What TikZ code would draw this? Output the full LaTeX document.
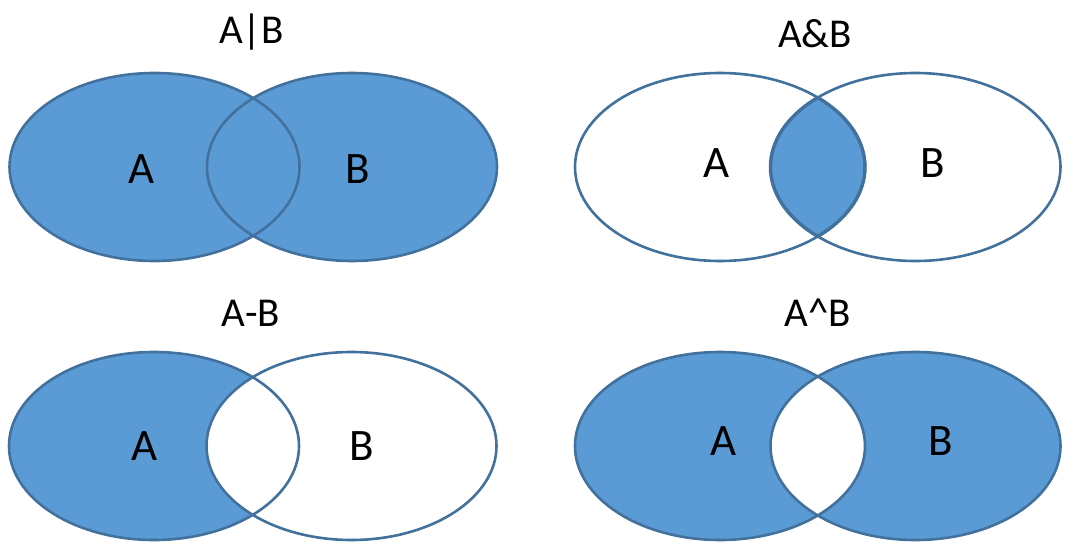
\documentclass[tikz,border=0pt]{standalone}
\usepackage{fontspec}
\setmainfont{Carlito}
\usepackage{tikz}
\definecolor{vennblue}{RGB}{91,155,213}
\definecolor{vennedge}{RGB}{65,113,156}

\begin{document}
\begin{tikzpicture}[
  x=1pt, y=-1pt,
  setedge/.style={draw=vennedge, line width=2.6pt},
  setfill/.style={fill=#1},
  setlabel/.style={anchor=base, inner sep=0pt, font=\fontsize{45}{45}\selectfont},
  optitle/.style={anchor=base, inner sep=0pt, font=\fontsize{41}{41}\selectfont},
  oval/.style={x radius=145pt, y radius=94pt}
]
\useasboundingbox (0,0) rectangle (1077,546);

% set centres
\coordinate (orA)  at (154.5,167);
\coordinate (orB)  at (352,167);
\coordinate (andA) at (720,167);
\coordinate (andB) at (915.5,167);
\coordinate (difA) at (154,446);
\coordinate (difB) at (351.5,446);
\coordinate (xorA) at (720,446);
\coordinate (xorB) at (915.5,446);

% A|B
\fill[setfill=vennblue] (orA) ellipse [oval] (orB) ellipse [oval];

% A&B
\begin{scope}
  \clip (andA) ellipse [oval];
  \fill[setfill=vennblue] (andB) ellipse [oval];
  \draw[setedge, line width=3.4pt] (andB) ellipse [oval];
\end{scope}
\begin{scope}
  \clip (andB) ellipse [oval];
  \draw[setedge, line width=3.4pt] (andA) ellipse [oval];
\end{scope}

% A-B
\fill[setfill=vennblue] (difA) ellipse [oval];
\fill[setfill=white] (difB) ellipse [oval];

% A^B
\fill[setfill=vennblue] (xorA) ellipse [oval] (xorB) ellipse [oval];
\begin{scope}
  \clip (xorA) ellipse [oval];
  \fill[setfill=white] (xorB) ellipse [oval];
\end{scope}

\foreach \s in {orA, orB, andA, andB, difA, difB, xorA, xorB}
  \draw[setedge] (\s) ellipse [oval];

% titles
\node[optitle] (orTitle)  at (251.5,43.3) {A|B};
\node[optitle] (andTitle) at (815,47.5)   {A\&B};
\node[optitle] (difTitle) at (251,326)    {A-B};
\node[optitle] (xorTitle) at (818,326)    {A\textasciicircum B};

% set labels
\node[setlabel] (orLabelA)  at (142,183)   {A};
\node[setlabel] (orLabelB)  at (358,183)   {B};
\node[setlabel] (andLabelA) at (717,177)   {A};
\node[setlabel] (andLabelB) at (933,177)   {B};
\node[setlabel] (difLabelA) at (145,460.5) {A};
\node[setlabel] (difLabelB) at (362,460.5) {B};
\node[setlabel] (xorLabelA) at (724,455)   {A};
\node[setlabel] (xorLabelB) at (941,455)   {B};
\end{tikzpicture}
\end{document}
